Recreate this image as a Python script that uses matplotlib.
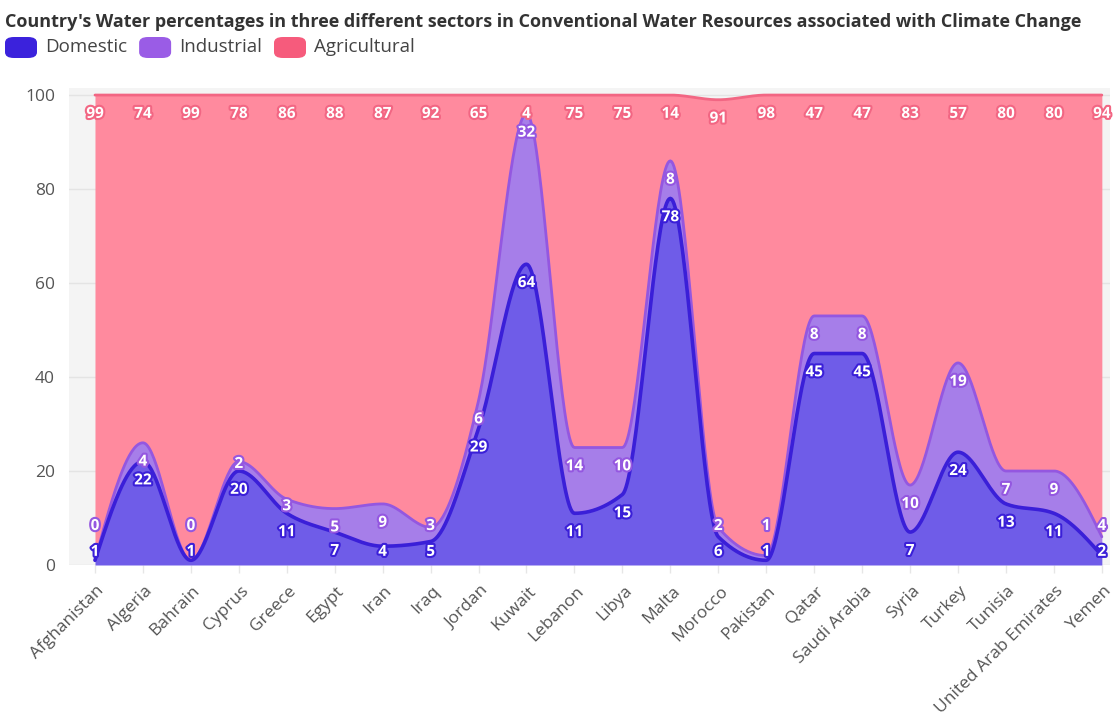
import numpy as np
import matplotlib
matplotlib.use("Agg")
import matplotlib.pyplot as plt
import matplotlib.patheffects as pe
from matplotlib.patches import FancyBboxPatch

plt.rcParams['font.family'] = ['Open Sans', 'DejaVu Sans']

countries = ["Afghanistan", "Algeria", "Bahrain", "Cyprus", "Greece", "Egypt", "Iran",
             "Iraq", "Jordan", "Kuwait", "Lebanon", "Libya", "Malta", "Morocco",
             "Pakistan", "Qatar", "Saudi Arabia", "Syria", "Turkey", "Tunisia",
             "United Arab Emirates", "Yemen"]
domestic = [1, 22, 1, 20, 11, 7, 4, 5, 29, 64, 11, 15, 78, 6, 1, 45, 45, 7, 24, 13, 11, 2]
industrial = [0, 4, 0, 2, 3, 5, 9, 3, 6, 32, 14, 10, 8, 2, 1, 8, 8, 10, 19, 7, 9, 4]
agricultural = [99, 74, 99, 78, 86, 88, 87, 92, 65, 4, 75, 75, 14, 91, 98, 47, 47, 83, 57, 80, 80, 94]

series = ["Domestic", "Industrial", "Agricultural"]
fill_cols = ["#6f5ce8", "#a67ee9", "#ff8a9e"]
line_cols = ["#3a1fd8", "#9457e0", "#f26683"]
swatch_cols = ["#3b22dc", "#9a5ce6", "#f65b7c"]


# d3 curveMonotoneX, sampled densely
def monotone(x, y, n=40):
    x = np.asarray(x, float)
    y = np.asarray(y, float)
    m = len(x)
    t = np.zeros(m)
    for i in range(1, m - 1):
        h0 = x[i] - x[i - 1]
        h1 = x[i + 1] - x[i]
        s0 = (y[i] - y[i - 1]) / h0
        s1 = (y[i + 1] - y[i]) / h1
        p = (s0 * h1 + s1 * h0) / (h0 + h1)
        t[i] = (np.sign(s0) + np.sign(s1)) * min(abs(s0), abs(s1), 0.5 * abs(p))
    t[0] = (3 * (y[1] - y[0]) / (x[1] - x[0]) - t[1]) / 2
    t[-1] = (3 * (y[-1] - y[-2]) / (x[-1] - x[-2]) - t[-2]) / 2
    xs, ys = [], []
    u = np.linspace(0, 1, n)
    for i in range(m - 1):
        dx = x[i + 1] - x[i]
        h00 = 2 * u**3 - 3 * u**2 + 1
        h10 = u**3 - 2 * u**2 + u
        h01 = -2 * u**3 + 3 * u**2
        h11 = u**3 - u**2
        xs.append(x[i] + u * dx)
        ys.append(h00 * y[i] + h10 * dx * t[i] + h01 * y[i + 1] + h11 * dx * t[i + 1])
    return np.concatenate(xs), np.concatenate(ys)


fig = plt.figure(figsize=(11.14, 7.22), dpi=100)
ax = fig.add_axes([69 / 1114, 157 / 722, 1041 / 1114, 477 / 722])
ax.set_facecolor("#f4f4f4")

xpos = np.arange(len(countries))
vals = [np.array(domestic), np.array(industrial), np.array(agricultural)]
cum = np.cumsum(vals, axis=0)

lower = np.zeros_like(monotone(xpos, cum[0])[1])
for k in range(3):
    xs, ys = monotone(xpos, cum[k])
    ax.fill_between(xs, lower, ys, color=fill_cols[k], lw=0, zorder=2 + k * 0.1)
    lower = ys
for k in range(3):
    xs, ys = monotone(xpos, cum[k])
    ax.plot(xs, ys, color=line_cols[k], lw=2.6 if k == 0 else 2.0, zorder=4 - k * 0.1,
            solid_capstyle="round")

# value labels sit a little below each stacked point
for i in range(len(countries)):
    prev = None
    for k in range(3):
        ly = max(cum[k][i] - 4.0, 2.8)
        if prev is not None and abs(ly - prev) < 4:
            ly = prev + 5.5
        prev = ly
        ax.text(xpos[i], ly, str(vals[k][i]), ha="center", va="center", fontsize=11,
                fontweight="bold", color="white", zorder=6,
                path_effects=[pe.withStroke(linewidth=3, foreground=line_cols[k])])

ax.set_xlim(-0.542, 21.17)
ax.set_ylim(0, 101.5)
ax.set_yticks([0, 20, 40, 60, 80, 100])
ax.set_xticks(xpos)
ax.set_xticklabels([])
for i, c in enumerate(countries):
    ax.annotate(c, (xpos[i], 0), xytext=(5, -17), textcoords="offset points",
                ha="right", va="center", rotation=45, rotation_mode="anchor",
                fontsize=12.5, color="#555555", annotation_clip=False)
ax.tick_params(axis="y", length=0, pad=10, labelsize=12.5, labelcolor="#555555")
ax.tick_params(axis="x", length=6, color="#e6e6e6", width=1)
for s in ax.spines.values():
    s.set_visible(False)
ax.grid(axis="y", color="#e4e4e4", lw=1, zorder=1)
ax.set_axisbelow(True)

fig.text(5 / 1114, 1 - 22 / 722,
         "Country's Water percentages in three different sectors in Conventional Water Resources associated with Climate Change",
         fontsize=13, fontweight="bold", color="#333333", va="center", ha="left")

lx = 5
for name, col in zip(series, swatch_cols):
    fig.patches.append(FancyBboxPatch((lx / 1114, 1 - 58 / 722), 32 / 1114, 21 / 722,
                                      boxstyle="round,pad=0,rounding_size=0.008",
                                      transform=fig.transFigure, facecolor=col, edgecolor="none"))
    t = fig.text((lx + 40) / 1114, 1 - 47 / 722, name, fontsize=13.5, color="#444444",
                 va="center", ha="left")
    fig.canvas.draw()
    bb = t.get_window_extent()
    lx = bb.x1 + 12

fig.savefig("out.png", dpi=100)
